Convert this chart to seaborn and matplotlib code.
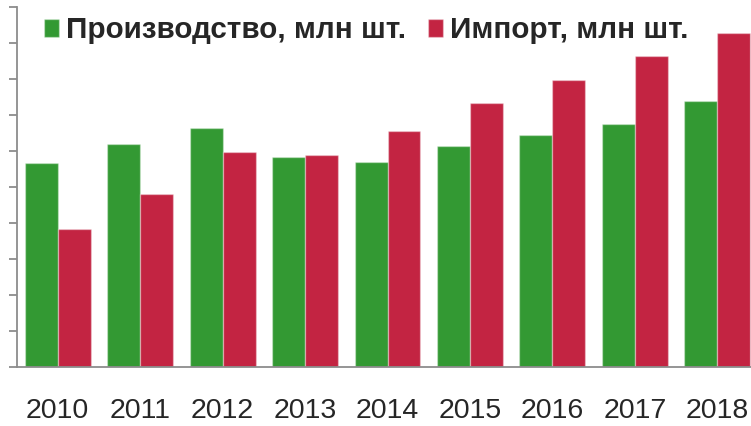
# Данные: производство и импорт по годам
import numpy as np
import pandas as pd
import matplotlib
matplotlib.use("Agg")
import matplotlib.pyplot as plt
import seaborn as sns
from matplotlib.ticker import FixedLocator

years = ["2010", "2011", "2012", "2013", "2014", "2015", "2016", "2017", "2018"]
production = [5.66, 6.21, 6.66, 5.84, 5.69, 6.14, 6.44, 6.77, 7.40]
imports = [3.84, 4.80, 5.97, 5.89, 6.56, 7.35, 7.99, 8.65, 9.30]
series_names = ["Производство, млн шт.", "Импорт, млн шт."]
colors = ["#339933", "#C32442"]

df = pd.DataFrame({
    "year": years * 2,
    "value": production + imports,
    "series": [series_names[0]] * len(years) + [series_names[1]] * len(years),
})

sns.set_style("white")
plt.rcParams["font.family"] = ["Liberation Sans", "DejaVu Sans"]

fig = plt.figure(figsize=(7.51, 4.26), dpi=100)
ax = fig.add_axes([0.022, 0.1385, 0.988, 0.844])

sns.barplot(data=df, x="year", y="value", hue="series", palette=colors,
            width=0.8, saturation=1, ax=ax,
            edgecolor=(1, 1, 1, 0.35), linewidth=1.0)

ax.set_ylim(0, 10)
ax.set_xlim(-0.5, len(years) - 0.5)
ax.set_yticks(np.arange(0, 11, 1))
ax.set_yticklabels([])
ax.set_xlabel("")
ax.set_ylabel("")

# деления на границах категорий
ax.xaxis.set_minor_locator(FixedLocator(np.arange(-0.5, len(years), 1)))
ax.tick_params(axis="x", which="major", length=0, pad=22, labelsize=20.5)
ax.tick_params(axis="x", which="minor", length=6, width=1.3, color="#8c8c8c")
ax.tick_params(axis="y", length=6, width=1.3, color="#8c8c8c", left=True)

for side in ["top", "right"]:
    ax.spines[side].set_visible(False)
for side in ["left", "bottom"]:
    ax.spines[side].set_color("#8c8c8c")
    ax.spines[side].set_linewidth(1.3)

# легенда
handles, labels = ax.get_legend_handles_labels()
ax.legend(handles, labels, loc="upper left", bbox_to_anchor=(0.035, 1.003),
          bbox_transform=fig.transFigure, ncol=2, frameon=False,
          prop={"weight": "bold", "size": 21.3},
          handlelength=0.51, handleheight=0.51, handletextpad=0.24,
          columnspacing=0.74, borderaxespad=0.2)

fig.savefig("out.png", dpi=100)
